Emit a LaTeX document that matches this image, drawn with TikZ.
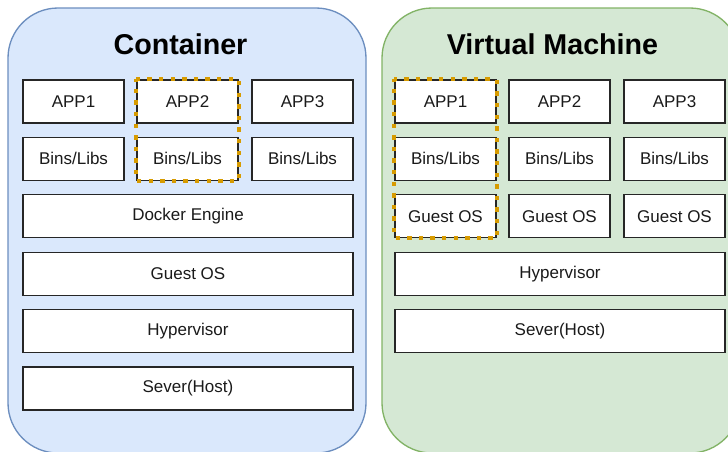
\documentclass[tikz,border=0pt]{standalone}
\usepackage{fontspec}
\setmainfont{Liberation Sans}
\usetikzlibrary{positioning}
\definecolor{bluefill}{HTML}{DAE8FC}
\definecolor{bluedraw}{HTML}{6C8EBF}
\definecolor{greenfill}{HTML}{D5E8D4}
\definecolor{greendraw}{HTML}{82B366}
\definecolor{hlorange}{HTML}{D79B00}
\definecolor{txt}{HTML}{1A1A1A}
\newdimen\pxu \pxu=0.75pt
\tikzset{
  panel/.style={rounded corners=37.5pt, line width=1pt, minimum width=358*\pxu, minimum height=445*\pxu, inner sep=0pt},
  layer/.style={draw=black!85, fill=white, line width=0.9pt, inner sep=0pt, minimum height=43*\pxu, text=txt, font=\fontsize{12.75}{15}\selectfont},
  small/.style={layer, minimum width=101*\pxu},
  wide/.style={layer, minimum width=330*\pxu},
  title/.style={font=\fontsize{21.5}{26}\selectfont\bfseries, text=black, inner sep=0pt},
  hl/.style={draw=hlorange, line width=3pt, dash pattern=on 3.2pt off 5.5pt, dash phase=1.6pt}
}
\begin{document}
\begin{tikzpicture}[x=0.75pt,y=-0.75pt]
\useasboundingbox (0,0) rectangle (728,451);
\clip (0,0) rectangle (728,451);
% panels
\node[panel, fill=bluefill, draw=bluedraw] (lp) at (187,230.5) {};
\node[panel, fill=greenfill, draw=greendraw] (rp) at (561,230.5) {};
\node[title] (lt) at (180.5,44) {Container};
\node[title] (rt) at (552.5,44) {Virtual Machine};
% left: container
\node[small] (la1) at (73.5,101.5) {APP1};
\node[small] (la2) at (187.5,101.5) {APP2};
\node[small] (la3) at (302.5,101.5) {APP3};
\node[small] (lb1) at (73.5,158.9) {Bins/Libs};
\node[small] (lb2) at (187.5,158.9) {Bins/Libs};
\node[small] (lb3) at (302.5,158.9) {Bins/Libs};
\node[wide] (ld) at (188,216.3) {Docker Engine};
\node[wide] (lg) at (188,273.7) {Guest OS};
\node[wide] (lh) at (188,331.1) {Hypervisor};
\node[wide] (ls) at (188,388.5) {Sever(Host)};
% right: virtual machine
\node[small] (ra1) at (445.5,101.5) {APP1};
\node[small] (ra2) at (559.5,101.5) {APP2};
\node[small] (ra3) at (674.5,101.5) {APP3};
\node[small] (rb1) at (445.5,158.9) {Bins/Libs};
\node[small] (rb2) at (559.5,158.9) {Bins/Libs};
\node[small] (rb3) at (674.5,158.9) {Bins/Libs};
\node[small] (rg1) at (445.5,216.3) {Guest OS};
\node[small] (rg2) at (559.5,216.3) {Guest OS};
\node[small] (rg3) at (674.5,216.3) {Guest OS};
\node[wide] (rh) at (560,273.7) {Hypervisor};
\node[wide] (rs) at (560,331.1) {Sever(Host)};
% highlights
\draw[hl] (la2.north west) rectangle (lb2.south east);
\draw[hl] (ra1.north west) rectangle (rg1.south east);
\end{tikzpicture}
\end{document}
